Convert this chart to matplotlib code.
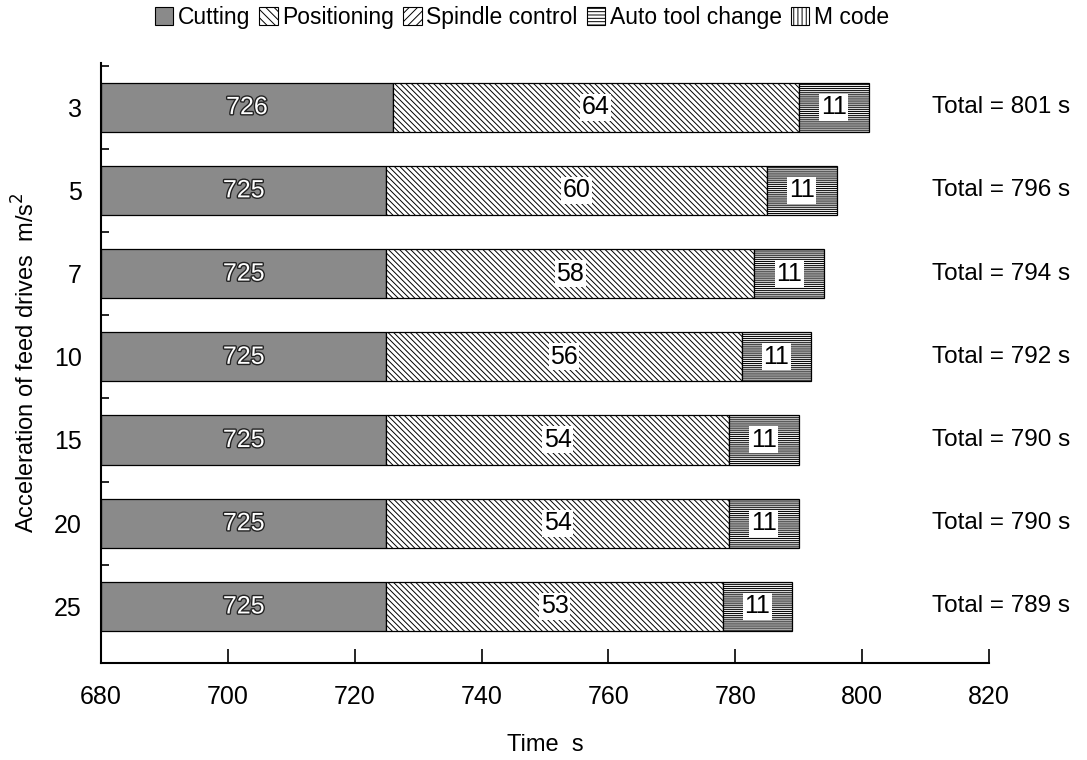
import numpy as np
import matplotlib.pyplot as plt
import matplotlib.patheffects as pe
from matplotlib.patches import Patch

plt.rcParams['font.family'] = ['Liberation Sans', 'DejaVu Sans']
plt.rcParams['hatch.linewidth'] = 0.7

accel = ['3', '5', '7', '10', '15', '20', '25']
cutting = [726, 725, 725, 725, 725, 725, 725]
positioning = [64, 60, 58, 56, 54, 54, 53]
tool_change = [11, 11, 11, 11, 11, 11, 11]
totals = [801, 796, 794, 792, 790, 790, 789]

legend_names = ['Cutting', 'Positioning', 'Spindle control', 'Auto tool change', 'M code']
legend_hatch = [None, '\\\\\\\\', '////', '-----', '||||']
legend_face = ['#8a8a8a', 'white', 'white', 'white', 'white']

xmin = 680

fig = plt.figure(figsize=(10.87, 7.6), dpi=100)
ax = fig.add_axes([0.0929, 0.1276, 0.817, 0.7895])

y = np.arange(len(accel))
cut = np.array(cutting)
pos = np.array(positioning)
tc = np.array(tool_change)
h = 0.59

ax.barh(y, cut - xmin, left=xmin, height=h, color='#8a8a8a', edgecolor='black', lw=0.9)
ax.barh(y, pos, left=cut, height=h, color='white', edgecolor='black', hatch='\\\\\\\\\\\\', lw=0.9)
ax.barh(y, tc, left=cut + pos, height=h, color='#eeeeee', edgecolor='black', hatch='--------', lw=0.9)

for i in range(len(accel)):
    ax.text((xmin + cut[i]) / 2, y[i], str(cut[i]), ha='center', va='center', fontsize=18,
            color='white', path_effects=[pe.withStroke(linewidth=2, foreground='#222222')])
    ax.text(cut[i] + pos[i] / 2, y[i], str(pos[i]), ha='center', va='center', fontsize=18,
            bbox=dict(facecolor='white', edgecolor='none', pad=1))
    ax.text(cut[i] + pos[i] + tc[i] / 2, y[i], str(tc[i]), ha='center', va='center', fontsize=18,
            bbox=dict(facecolor='white', edgecolor='none', pad=1))
    ax.text(0.936, y[i], f'Total = {totals[i]} s', transform=ax.get_yaxis_transform(),
            ha='left', va='center', fontsize=17.5, clip_on=False)

ax.set_xlim(680, 820)
ax.set_ylim(6.68, -0.53)
ax.set_xticks(np.arange(680, 821, 20))
ax.set_yticks(y)
ax.set_yticklabels(accel)
ax.set_yticks(np.arange(-0.5, 6, 1), minor=True)
ax.tick_params(axis='y', which='major', length=0, labelsize=18, pad=14)
ax.tick_params(axis='y', which='minor', direction='in', length=6, width=1.2)
ax.tick_params(axis='x', direction='in', length=10, width=1.2, labelsize=18, pad=16)
for s in ['top', 'right']:
    ax.spines[s].set_visible(False)
for s in ['left', 'bottom']:
    ax.spines[s].set_linewidth(1.5)

ax.set_xlabel('Time  s', fontsize=17, labelpad=18)
ax.set_ylabel('Acceleration of feed drives  m/s$^2$', fontsize=17, labelpad=10)

handles = [Patch(facecolor=legend_face[k], edgecolor='black', hatch=legend_hatch[k], lw=0.8)
           for k in range(len(legend_names))]
fig.legend(handles, legend_names, loc='center', bbox_to_anchor=(0.48, 0.977), ncol=5,
           frameon=False, fontsize=16.5, handlelength=0.8, handleheight=0.8,
           handletextpad=0.2, columnspacing=0.4)

fig.savefig('out.png', dpi=100)
